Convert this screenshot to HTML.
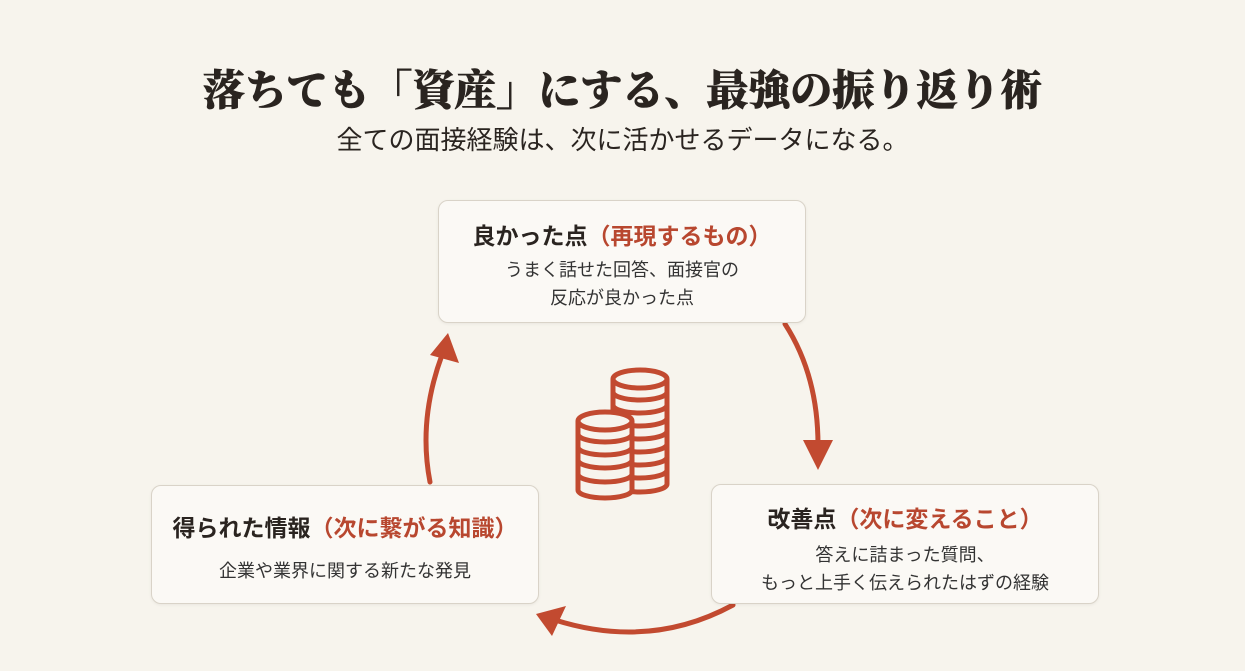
<!DOCTYPE html>
<html><head><meta charset="utf-8"><style>
body{margin:0;width:1245px;height:671px;background:#f7f4ed;position:relative;overflow:hidden;font-family:"Liberation Sans","Noto Sans CJK JP",sans-serif;color:#2a2420}
.t{position:absolute;left:0;width:1245px;text-align:center}
.box{position:absolute;background:#fbf9f5;border:1.5px solid #d9d3c8;border-radius:10px;box-shadow:0 1px 3px rgba(0,0,0,.06);text-align:center}
.h{font-weight:bold;font-size:23px;color:#2a2420}
.h span{color:#b8472f}
.d{font-size:18px;line-height:28px;color:#333}
</style></head><body>
<div class="t" style="top:58px;font-family:'Liberation Serif','Noto Serif CJK SC',serif;font-weight:900;font-size:42px;color:#2a2420;-webkit-text-stroke:0.6px #2a2420">落ちても「資産」にする、最強の振り返り術</div>
<div class="t" style="top:120px;font-size:26px;color:#2a2420">全ての面接経験は、次に活かせるデータになる。</div>

<svg style="position:absolute;left:0;top:0" width="1245" height="671">
<g fill="none" stroke="#c24a30" stroke-width="5" stroke-linecap="round">
<path d="M785 324 Q818 375 818 445"/>
<path d="M733 605 Q650 650 555 620"/>
<path d="M430 482 Q418 420 442 355"/>
</g>
<g fill="#c24a30">
<polygon points="803,440 833,440 818,470"/>
<polygon points="536,614 566,606 552,636"/>
<polygon points="448,333 459,363 430,355"/>
</g>
<g fill="#f7f4ed" stroke="#c24a30" stroke-width="5">
<path d="M613 379 L613 484 A27 8 0 0 0 667 484 L667 379"/>
<ellipse cx="640" cy="379" rx="27" ry="9"/>
<path d="M613 392 A27 8 0 0 0 667 392 M613 405 A27 8 0 0 0 667 405 M613 418 A27 8 0 0 0 667 418 M613 431 A27 8 0 0 0 667 431 M613 444 A27 8 0 0 0 667 444 M613 457 A27 8 0 0 0 667 457 M613 470 A27 8 0 0 0 667 470" fill="none"/>
<path d="M578 421 L578 490 A27 8 0 0 0 632 490 L632 421"/>
<ellipse cx="605" cy="421" rx="27" ry="9"/>
<path d="M578 434 A27 8 0 0 0 632 434 M578 447 A27 8 0 0 0 632 447 M578 460 A27 8 0 0 0 632 460 M578 474 A27 8 0 0 0 632 474" fill="none"/>
</g>
</svg>

<div class="box" style="left:438px;top:200px;width:366px;height:121px">
<div class="h" style="margin-top:16px">良かった点<span>（再現するもの）</span></div>
<div class="d" style="margin-top:5px">うまく話せた回答、面接官の<br>反応が良かった点</div>
</div>
<div class="box" style="left:151px;top:485px;width:386px;height:117px">
<div class="h" style="margin-top:23px">得られた情報<span>（次に繋がる知識）</span></div>
<div class="d" style="margin-top:14px">企業や業界に関する新たな発見</div>
</div>
<div class="box" style="left:711px;top:484px;width:386px;height:118px">
<div class="h" style="margin-top:15px">改善点<span>（次に変えること）</span></div>
<div class="d" style="margin-top:7px">答えに詰まった質問、<br>もっと上手く伝えられたはずの経験</div>
</div>
</body></html>
